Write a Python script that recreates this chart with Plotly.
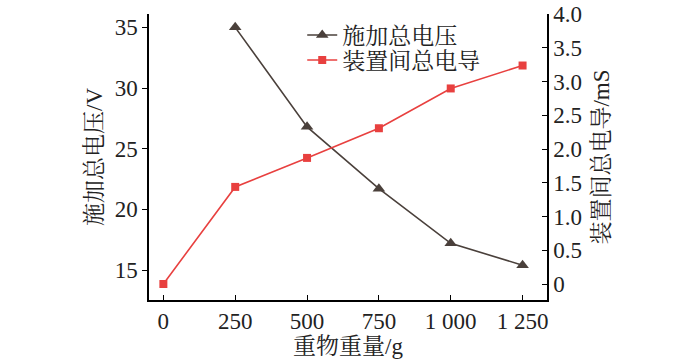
import plotly.graph_objects as go

weights = [0, 250, 500, 750, 1000, 1250]
x_tick_labels = ["0", "250", "500", "750", "1 000", "1 250"]
voltage_x = [250, 500, 750, 1000, 1250]
voltage = [35.0, 26.8, 21.7, 17.2, 15.4]
conductance = [0.0, 1.44, 1.87, 2.31, 2.90, 3.24]
y2_tickvals = [0, 0.5, 1.0, 1.5, 2.0, 2.5, 3.0, 3.5, 4.0]
y2_ticktext = ["0", "0.5", "1.0", "1.5", "2.0", "2.5", "3.0", "3.5", "4.0"]

FONT = "Liberation Serif, 'Times New Roman', 'Noto Serif CJK SC', 'Noto Sans CJK SC', serif"
DARK = "#4a403b"
RED = "#e8403f"

fig = go.Figure()
fig.add_trace(go.Scatter(
    x=voltage_x, y=voltage, name="施加总电压", mode="lines+markers",
    line=dict(color=DARK, width=1.6),
    marker=dict(symbol="triangle-up", size=11, color=DARK),
    yaxis="y", legend="legend"))
fig.add_trace(go.Scatter(
    x=weights, y=conductance, name="装置间总电导", mode="lines+markers",
    line=dict(color=RED, width=1.6),
    marker=dict(symbol="square", size=8, color=RED),
    yaxis="y2", legend="legend2"))

axis_common = dict(showline=True, linecolor="black", linewidth=1.5, showgrid=False,
                   zeroline=False, tickcolor="black", ticklen=5, tickwidth=1.2,
                   tickfont=dict(family=FONT, size=23, color="#222"))

W, H = 700, 362
L, T = 149, 14
R = W - 547
B = H - 300
PH = 300 - 14

def ly(py):
    return 1 - (py - T) / PH

legend_common = dict(xanchor="left", yanchor="middle", bgcolor="rgba(0,0,0,0)",
                     font=dict(family=FONT, size=23, color="#222"), itemwidth=30)

fig.update_layout(
    width=W, height=H,
    margin=dict(l=L, r=R, t=T, b=B),
    paper_bgcolor="white", plot_bgcolor="white",
    font=dict(family=FONT, size=23, color="#222"),
    showlegend=True,
    legend=dict(x=0.385, y=ly(35), **legend_common),
    legend2=dict(x=0.385, y=ly(60), **legend_common),
    xaxis=dict(range=[-50, 1335], tickvals=weights, ticktext=x_tick_labels,
               ticks="inside", automargin=False,
               title=dict(text="重物重量/g", font=dict(family=FONT, size=23), standoff=0),
               **axis_common),
    yaxis=dict(range=[12.53, 36.1], tickvals=[15, 20, 25, 30, 35], ticks="outside",
               automargin=False,
               title=dict(text="施加总电压/V", font=dict(family=FONT, size=23), standoff=6),
               **axis_common),
    yaxis2=dict(range=[-0.237, 4.004], tickvals=y2_tickvals, ticktext=y2_ticktext,
                overlaying="y", side="right", ticks="inside", automargin=False,
                title=dict(text="装置间总电导/mS", font=dict(family=FONT, size=23), standoff=12),
                **axis_common),
)

fig.write_html("out.html", config={"displayModeBar": False},
               post_script="document.body.style.margin='0';document.body.style.overflow='hidden';")
